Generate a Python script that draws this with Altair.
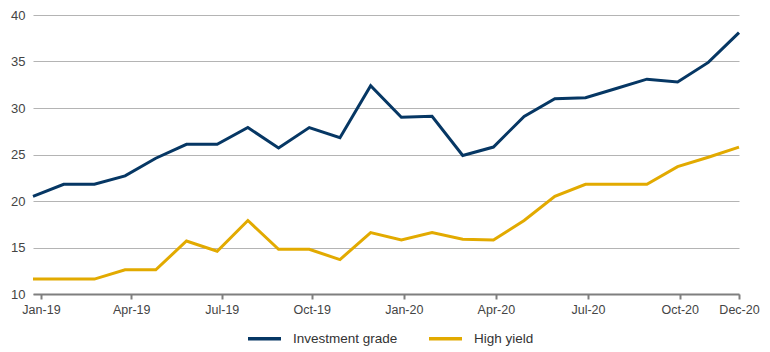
import altair as alt
import pandas as pd

months = ["Jan-19", "Feb-19", "Mar-19", "Apr-19", "May-19", "Jun-19", "Jul-19", "Aug-19",
          "Sep-19", "Oct-19", "Nov-19", "Dec-19", "Jan-20", "Feb-20", "Mar-20", "Apr-20",
          "May-20", "Jun-20", "Jul-20", "Aug-20", "Sep-20", "Oct-20", "Nov-20", "Dec-20"]
investment_grade = [20.5, 21.8, 21.8, 22.7, 24.6, 26.1, 26.1, 27.9, 25.7, 27.9, 26.8, 32.4,
                    29.0, 29.1, 24.9, 25.8, 29.1, 31.0, 31.1, 32.1, 33.1, 32.8, 34.9, 38.1]
high_yield = [11.6, 11.6, 11.6, 12.6, 12.6, 15.7, 14.6, 17.9, 14.8, 14.8, 13.7, 16.6,
              15.8, 16.6, 15.9, 15.8, 17.9, 20.5, 21.8, 21.8, 21.8, 23.7, 24.7, 25.8]
tick_labels = ["Jan-19", "Apr-19", "Jul-19", "Oct-19", "Jan-20", "Apr-20", "Jul-20", "Oct-20", "Dec-20"]
# where each tick sits, as a fraction of a month after its data point
tick_shift = [0.26, 0.2, 0.15, 0.08, 0.08, 0.08, 0.08, 0.07, 0.0]
series_names = ["Investment grade", "High yield"]
colors = ["#063764", "#e2aa00"]

rows = []
for i, m in enumerate(months):
    rows.append({"idx": i, "month": m, "series": series_names[0], "value": investment_grade[i]})
    rows.append({"idx": i, "month": m, "series": series_names[1], "value": high_yield[i]})
df = pd.DataFrame(rows)

tick_vals = [months.index(t) + s for t, s in zip(tick_labels, tick_shift)]
label_expr = "[" + ",".join("'" + m + "'" for m in months) + "][floor(datum.value)]"

chart = alt.Chart(df).mark_line(strokeWidth=3, strokeJoin="miter").encode(
    x=alt.X("idx:Q", scale=alt.Scale(domain=[0, 23], nice=False, zero=False),
            axis=alt.Axis(values=tick_vals, labelExpr=label_expr, title=None, grid=False,
                          labelFlush=False, labelOverlap=False,
                          domainColor="#7f7f7f", domainWidth=2, tickColor="#7f7f7f",
                          tickWidth=2, tickSize=5, labelPadding=4, labelFontSize=12.5,
                          labelColor="#444444", labelFont="Liberation Sans")),
    y=alt.Y("value:Q", scale=alt.Scale(domain=[10, 40], nice=False),
            axis=alt.Axis(values=[10, 15, 20, 25, 30, 35, 40], title=None, domain=False,
                          ticks=False, gridColor="#b4b4b4", gridWidth=1.2, labelPadding=8,
                          labelFontSize=13, labelColor="#444444", labelFont="Liberation Sans")),
    color=alt.Color("series:N", scale=alt.Scale(domain=series_names, range=colors),
                    sort=series_names,
                    legend=alt.Legend(title=None, orient="none", legendX=213, legendY=305,
                                      direction="horizontal", symbolType="stroke",
                                      symbolStrokeWidth=3.5, symbolSize=1089,
                                      labelFontSize=13.5, labelColor="#333333",
                                      labelFont="Liberation Sans", columnPadding=24,
                                      labelOffset=10)),
).properties(
    width=706, height=279,
    autosize=alt.AutoSizeParams(type="none"),
    padding={"left": 33, "top": 15, "right": 31, "bottom": 58},
).configure_view(stroke=None)

chart.save("out.html", embed_options={"renderer": "svg", "actions": False})
